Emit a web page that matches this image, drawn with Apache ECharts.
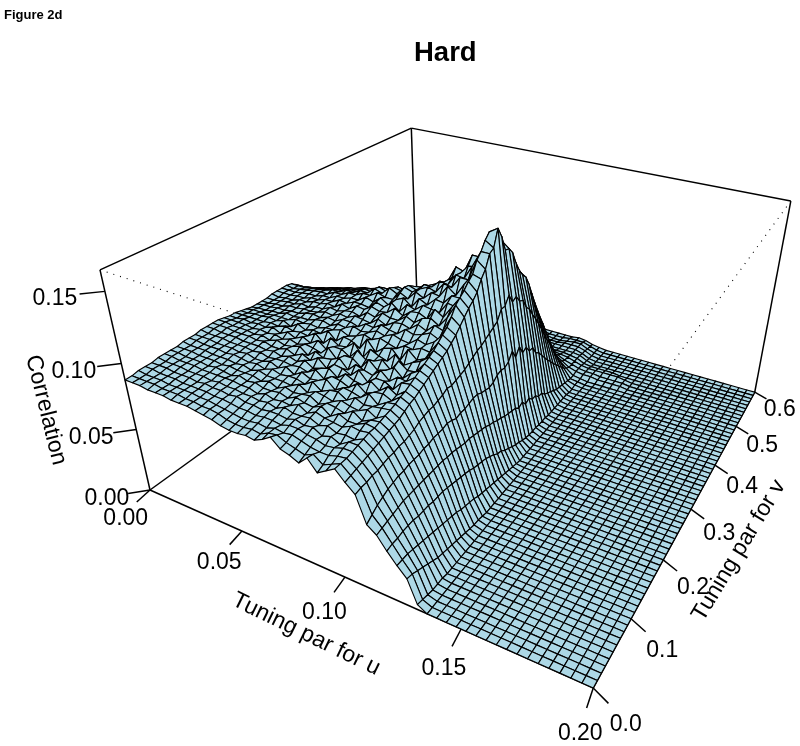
<!DOCTYPE html>
<html>
<head>
<meta charset="utf-8">
<style>
  html, body { margin: 0; padding: 0; background: #fff; }
  #chart { width: 800px; height: 746px; }
</style>
<script src="https://cdn.jsdelivr.net/npm/echarts@6/dist/echarts.min.js"></script>
</head>
<body>
<div id="chart"></div>
<script>
const uTicks = [0, 0.05, 0.1, 0.15, 0.2];
const vTicks = [0, 0.1, 0.2, 0.3, 0.4, 0.5, 0.6];
const zTicks = [0, 0.05, 0.1, 0.15];
const uTickLabels = ['0.00', '0.05', '0.10', '0.15', '0.20'];
const vTickLabels = ['0.0', '0.1', '0.2', '0.3', '0.4', '0.5', '0.6'];
const zTickLabels = ['0.00', '0.05', '0.10', '0.15'];

// correlation x 1000, one row per v step (0.01), one value per u step (0.004); missing values at the end of a row are 0
const zRows = [
  [88,88,88,87,87,87,86,86,86,85,84,83,81,80,80,81,80,83,87,81,79,76,82,74,78,82,75,69,50,45,36,28,21,4],
  [88,88,88,88,87,87,87,86,86,85,85,84,82,81,81,82,81,84,85,82,80,78,81,76,79,82,76,70,53,46,37,28,20,3],
  [89,88,88,88,87,87,87,87,86,86,85,84,83,82,82,83,82,84,83,84,82,80,79,79,81,82,77,70,56,47,37,28,18,2],
  [89,89,88,88,88,87,87,87,87,86,86,85,84,84,83,84,84,83,85,85,83,82,80,81,83,83,78,71,58,48,38,27,16,1],
  [89,89,89,88,88,88,87,88,87,87,86,87,85,85,84,85,85,84,86,84,85,81,83,80,84,84,79,71,60,49,38,26,14,1],
  [90,89,89,89,88,88,88,87,88,87,87,86,86,85,86,84,87,85,85,86,83,85,82,83,82,85,80,72,61,50,38,25,12,1],
  [90,90,89,89,89,88,88,88,88,88,87,87,85,87,85,86,85,88,84,87,85,84,83,86,85,86,81,73,62,50,37,24,10],
  [90,90,89,89,89,88,89,88,87,89,87,88,86,86,87,85,88,86,85,88,83,87,84,84,87,86,82,73,62,50,37,23,9],
  [90,90,90,89,89,89,88,89,88,88,88,86,88,85,88,86,87,88,84,87,86,84,88,83,86,87,83,74,63,50,37,22,8],
  [91,90,90,90,89,89,89,88,89,87,89,87,87,87,86,89,85,88,87,85,88,86,85,88,84,88,84,74,63,50,36,21,7],
  [91,91,90,90,90,89,90,89,88,89,87,89,87,88,88,86,90,85,88,89,85,89,86,87,88,89,85,75,63,50,36,20,6],
  [91,91,91,90,90,90,89,90,88,88,90,87,90,86,90,87,88,91,85,89,88,86,91,85,89,90,87,76,64,50,36,19,5],
  [92,91,91,91,90,90,90,89,90,88,89,89,88,89,87,91,86,90,89,86,91,86,89,90,87,92,89,78,64,50,35,18,4],
  [92,92,91,91,91,90,90,90,89,90,88,90,88,91,87,89,91,86,91,88,87,92,87,92,88,93,90,79,65,50,34,16,3],
  [92,92,92,91,91,91,90,91,89,89,91,88,91,88,92,86,91,90,87,93,86,91,91,87,94,95,92,80,65,49,33,15,2],
  [92,92,91,91,91,90,91,89,91,89,90,92,87,92,89,90,93,86,92,90,88,94,88,93,92,97,94,80,65,49,32,14,2],
  [91,91,91,91,90,91,90,91,89,91,89,91,90,88,94,87,92,92,87,95,89,91,95,89,95,99,96,81,66,48,31,13,1],
  [90,90,91,90,91,90,92,89,92,89,92,89,93,88,92,92,88,95,90,91,94,88,97,92,93,101,98,82,65,47,30,11],
  [90,90,90,90,90,91,90,92,90,91,90,94,88,94,90,91,96,87,95,92,90,97,91,95,98,103,100,84,63,46,28,10],
  [89,89,90,90,91,90,92,89,93,90,92,91,95,89,94,93,89,98,90,95,97,90,100,94,97,105,102,83,64,46,27,9],
  [88,89,89,89,90,90,90,92,91,92,91,93,93,95,92,94,97,95,98,96,94,98,97,100,99,108,104,84,64,45,26,8],
  [87,88,88,89,89,91,90,91,91,93,94,92,95,94,97,95,96,99,97,100,98,97,102,100,104,111,107,85,65,44,25,7],
  [87,88,88,89,89,90,90,92,93,92,94,93,96,96,94,98,97,101,99,98,103,101,103,106,103,114,110,86,66,43,23,6],
  [87,87,88,88,90,90,91,91,92,94,93,96,95,98,97,96,101,98,102,103,101,106,103,109,107,119,114,88,66,42,21,5],
  [87,87,88,89,89,91,90,92,92,95,94,96,97,95,100,98,103,101,101,106,103,108,110,106,114,125,118,90,64,40,18,4],
  [88,87,88,88,90,90,92,92,94,93,97,95,99,98,102,100,101,106,102,107,108,105,114,110,119,128,122,92,63,39,17,3],
  [88,88,88,89,89,91,91,93,93,96,95,98,98,97,103,101,106,101,108,106,111,110,109,118,117,131,125,93,62,37,14,2],
  [88,88,88,89,90,90,92,92,95,95,97,97,101,99,104,100,106,109,104,112,109,115,114,121,121,135,129,95,63,36,12,1],
  [88,87,88,89,90,91,91,94,94,97,97,100,100,104,102,102,109,106,113,110,116,115,124,119,129,138,136,97,66,34,10],
  [87,87,87,88,89,90,92,92,95,95,98,98,103,101,107,104,111,109,113,116,114,122,121,130,130,146,141,99,67,33,8],
  [84,84,85,86,87,88,90,90,93,93,97,96,102,100,105,104,110,108,114,114,120,119,128,127,138,150,150,101,66,32,7],
  [80,81,82,84,85,86,88,88,91,91,95,95,99,99,103,102,107,108,111,114,117,122,127,134,135,156,152,108,68,31,5],
  [76,77,79,81,83,84,85,87,88,89,89,91,93,95,96,97,99,101,105,109,116,128,126,140,140,160,164,108,74,28,4],
  [74,75,77,79,81,82,84,85,87,87,88,90,91,93,94,95,97,99,102,106,113,122,124,131,148,150,156,114,66,30,3],
  [70,71,73,76,78,80,81,83,84,85,86,87,89,91,92,93,95,96,99,103,110,116,126,128,136,152,144,106,72,25,3],
  [66,68,70,73,75,77,79,80,82,83,84,85,87,89,91,92,94,95,97,101,107,115,121,128,139,148,143,108,64,27,3],
  [63,65,67,70,72,75,77,78,80,81,82,84,85,87,89,90,92,93,95,99,104,112,118,125,136,140,138,102,66,23,2],
  [60,62,64,67,69,72,74,75,77,78,79,81,83,85,87,88,90,91,93,97,101,108,114,122,130,138,128,100,60,23,2],
  [56,58,61,63,66,68,70,72,74,75,77,78,80,82,84,85,88,89,91,94,98,103,109,116,124,128,120,92,60,19,2],
  [53,55,58,60,63,65,67,70,72,73,75,77,79,81,83,85,86,88,90,92,96,100,106,112,120,121,114,88,53,19,1],
  [51,53,55,58,60,63,65,67,69,71,73,75,77,79,81,83,84,86,87,89,92,96,101,107,113,114,110,81,50,15,1],
  [48,50,52,55,57,59,61,64,66,68,70,72,74,76,77,79,81,82,84,85,88,91,96,100,105,106,102,75,45,13,1],
  [45,47,49,51,54,56,58,60,62,64,66,68,70,72,73,75,76,77,79,80,83,86,90,94,98,97,92,68,40,11,1],
  [43,45,47,49,51,53,55,57,59,61,63,64,66,68,69,71,72,73,74,75,78,80,84,87,89,87,82,61,35,9,1],
  [41,43,45,47,49,51,53,55,56,58,60,61,63,65,66,67,68,69,70,71,73,75,78,80,81,78,73,53,31,7,1],
  [39,41,43,45,47,48,50,52,53,55,57,58,60,61,62,64,64,65,66,67,68,69,71,72,72,69,64,46,26,6,1],
  [37,39,41,42,44,45,47,49,50,52,53,54,56,57,58,59,60,61,62,62,63,63,64,65,64,61,56,40,22,5],
  [35,36,38,40,41,43,44,46,47,48,49,50,52,53,54,54,55,56,56,57,57,57,57,57,56,53,47,33,18,4],
  [33,34,36,37,38,40,41,42,43,44,45,46,47,48,49,49,50,50,50,50,50,49,49,48,46,43,38,26,14,3,1],
  [31,32,33,34,35,36,37,38,39,40,41,41,42,43,43,43,43,43,43,42,42,41,39,37,35,32,28,19,10,2,1],
  [29,29,30,31,32,32,33,34,34,35,35,35,36,36,36,36,36,35,35,34,33,31,29,27,25,22,19,12,7,2,1],
  [27,27,28,29,29,30,30,31,31,31,31,31,31,31,31,30,30,29,28,27,25,23,21,19,17,15,13,9,5,3,2,2,1,1,1,1],
  [25,25,26,26,26,27,27,27,27,27,27,27,27,26,26,25,25,24,23,21,19,17,15,13,12,11,10,7,5,3,2,2,1,1,1,1],
  [24,24,24,24,24,24,24,24,24,23,23,23,22,22,21,21,20,19,18,16,14,13,11,10,9,9,8,7,5,3,2,2,2,2,2,1],
  [22,22,22,22,22,21,21,21,21,20,20,20,19,18,18,17,16,15,14,12,11,10,8,8,7,7,7,6,5,2,1,1,1,1],
  [20,20,20,20,19,19,19,19,18,18,17,17,16,16,15,14,14,13,12,10,9,8,7,6,6,6,6,6,5,2],
  [18,18,18,17,17,17,16,16,16,15,15,14,14,13,13,12,11,11,10,9,8,7,6,6,6,6,6,6,4,1],
  [17,16,16,16,15,15,15,14,14,14,13,13,12,12,11,11,10,9,9,8,7,6,5,5,5,6,6,6,4,1],
  [15,15,15,14,14,14,13,13,13,12,12,11,11,10,10,9,9,8,8,7,6,5,5,4,4,5,6,6,3,1],
  [13,13,13,13,12,12,12,11,11,11,10,10,10,9,9,8,8,7,7,6,5,5,4,4,4,5,5,5,3,1],
  [11,11,11,11,11,10,10,10,10,9,9,9,8,8,8,7,7,6,6,6,5,4,4,4,4,4,5,4,2,1]
];

const uMax = 0.2, vMax = 0.6, zMax = 0.164;
const uCount = 50, vCount = zRows.length - 1;
const font = '23px "Liberation Sans", Arial, sans-serif';

// perspective view of the box, fitted to its corners in the picture
function project(u, v, z) {
  const a = u / uMax, b = v / vMax, c = z / zMax;
  const w = 1 - 0.215 * a + 0.415 * b - 0.135 * c;
  return [
    (150 + 315.7 * a + 440 * b - 63.5 * c) / w,
    (490 + 50.1 * a - 69.5 * b - 256.5 * c) / w
  ];
}

function zAt(i, j) {
  return (zRows[j][i] || 0) / 1000;
}

// far cells first so nearer ones paint over them
const cells = [];
for (let j = vCount - 1; j >= 0; j--) {
  for (let i = 0; i < uCount; i++) {
    cells.push([i, j]);
  }
}

const solidEdges = [
  [0, 0, zMax, 0, vMax, zMax], [0, vMax, zMax, uMax, vMax, zMax],
  [uMax, vMax, zMax, uMax, vMax, 0], [0, 0, zMax, 0, 0, 0],
  [0, 0, 0, uMax, 0, 0], [uMax, 0, 0, uMax, vMax, 0],
  [0, 0, 0, 0, vMax, 0], [0, vMax, 0, 0, vMax, zMax]
];
const dottedEdges = [
  [0, 0, zMax, uMax, 0, zMax], [uMax, vMax, zMax, uMax, 0, zMax]
];

const du = uMax, dv = vMax;
const tickSegs = [];
const labels = [];
uTicks.forEach((u, k) => {
  tickSegs.push([u, 0, 0, u + 0.006 * du, -0.04 * dv, 0]);
  labels.push({ text: uTickLabels[k], pos: [u, -0.085 * dv, 0], dx: 9, dy: 5 });
});
vTicks.forEach((v, k) => {
  tickSegs.push([uMax, v, 0, uMax + 0.033 * du, v - 0.015 * dv, 0]);
  labels.push({ text: vTickLabels[k], pos: [uMax + 0.07 * du, v - 0.033 * dv, 0], dy: 3 });
});
zTicks.forEach((z, k) => {
  tickSegs.push([0, 0, z, -0.03 * du, -0.03 * dv, z]);
  labels.push({ text: zTickLabels[k], pos: [-0.06 * du, -0.06 * dv, z], dx: 1, dy: 2 });
});
labels.push({ text: 'Tuning par for u', pos: [0.524 * du, -0.14 * dv, 0], angle: -26 });
labels.push({ text: 'Tuning par for v', pos: [1.12 * du, 0.43 * dv, 0], angle: 59 });
labels.push({ text: 'Correlation', pos: [-0.105 * du, -0.105 * dv, 0.45 * zMax], angle: -76 });

function segmentSeries(data, style) {
  return {
    type: 'custom',
    silent: true,
    clip: false,
    data: data,
    renderItem: function (params, api) {
      const p = project(api.value(0), api.value(1), api.value(2));
      const q = project(api.value(3), api.value(4), api.value(5));
      const a = api.coord(p), b = api.coord(q);
      return {
        type: 'line',
        shape: { x1: a[0], y1: a[1], x2: b[0], y2: b[1] },
        style: style
      };
    }
  };
}

const option = {
  animation: false,
  title: [
    {
      text: 'Figure 2d', left: 4, top: 9, padding: 0,
      textStyle: { fontFamily: 'Liberation Sans', fontSize: 13, fontWeight: 'bold', color: '#000' }
    },
    {
      text: 'Hard', left: 414, top: 39, padding: 0,
      textStyle: { fontFamily: 'Liberation Sans', fontSize: 27.5, fontWeight: 'bold', color: '#000' }
    }
  ],
  grid: { left: 0, right: 0, top: 0, bottom: 0 },
  xAxis: { type: 'value', min: 0, max: 800, show: false },
  yAxis: { type: 'value', min: 0, max: 746, inverse: true, show: false },
  series: [
    segmentSeries(solidEdges, { stroke: '#000', lineWidth: 1.5, fill: null }),
    segmentSeries(dottedEdges, { stroke: '#000', lineWidth: 1.1, lineDash: [1, 6], fill: null }),
    {
      type: 'custom',
      silent: true,
      clip: false,
      progressive: 0,
      data: cells,
      renderItem: function (params, api) {
        const i = api.value(0), j = api.value(1);
        const corners = [[i, j], [i + 1, j], [i + 1, j + 1], [i, j + 1]];
        const points = corners.map(function (c) {
          return api.coord(project(c[0] * uMax / uCount, c[1] * vMax / vCount, zAt(c[0], c[1])));
        });
        return {
          type: 'polygon',
          shape: { points: points },
          style: { fill: '#ADD8E6', stroke: '#000', lineWidth: 1.15, lineJoin: 'round' }
        };
      }
    },
    segmentSeries(tickSegs, { stroke: '#000', lineWidth: 1.5, fill: null }),
    {
      type: 'custom',
      silent: true,
      clip: false,
      data: labels.map(function (l, k) { return [k]; }),
      renderItem: function (params, api) {
        const l = labels[api.value(0)];
        const p = api.coord(project(l.pos[0], l.pos[1], l.pos[2]));
        return {
          type: 'text',
          x: p[0] + (l.dx || 0),
          y: p[1] + (l.dy || 0),
          rotation: (l.angle || 0) * Math.PI / 180,
          style: { text: l.text, font: font, fill: '#000', textAlign: 'center', textVerticalAlign: 'middle' }
        };
      }
    }
  ]
};

const chart = echarts.init(document.getElementById('chart'));
chart.setOption(option);
</script>
</body>
</html>
